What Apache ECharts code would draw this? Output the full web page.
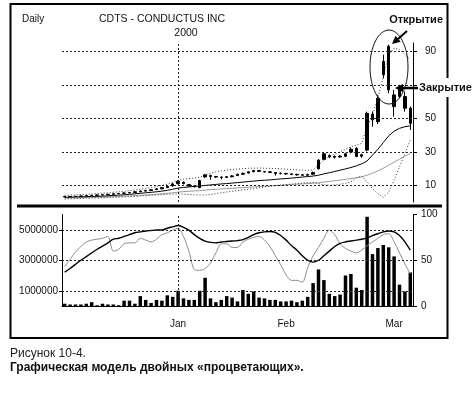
<!DOCTYPE html>
<html><head><meta charset="utf-8">
<script src="https://cdn.jsdelivr.net/npm/echarts@6/dist/echarts.min.js"></script>
<style>html,body{margin:0;padding:0;background:#fff}#c{width:476px;height:393px}</style>
</head><body><div id="c"></div><script>
// trading days
const categories = [
 '1999-12-02','1999-12-03','1999-12-06','1999-12-07','1999-12-08','1999-12-09','1999-12-10','1999-12-13','1999-12-14','1999-12-15',
 '1999-12-16','1999-12-17','1999-12-20','1999-12-21','1999-12-22','1999-12-23','1999-12-27','1999-12-28','1999-12-29','1999-12-30',
 '1999-12-31','2000-01-03','2000-01-04','2000-01-05','2000-01-06','2000-01-07','2000-01-10','2000-01-11','2000-01-12','2000-01-13',
 '2000-01-14','2000-01-18','2000-01-19','2000-01-20','2000-01-21','2000-01-24','2000-01-25','2000-01-26','2000-01-27','2000-01-28',
 '2000-01-31','2000-02-01','2000-02-02','2000-02-03','2000-02-04','2000-02-07','2000-02-08','2000-02-09','2000-02-10','2000-02-11',
 '2000-02-14','2000-02-15','2000-02-16','2000-02-17','2000-02-18','2000-02-22','2000-02-23','2000-02-24','2000-02-25','2000-02-28',
 '2000-02-29','2000-03-01','2000-03-02','2000-03-03','2000-03-06'];
const monthNames = {'01':'Jan','02':'Feb','03':'Mar'};

const openP  = [3.0,3.2,3.3,3.4,3.6,3.8,4.0,4.2,4.3,4.6, 4.9,5.2,5.4,5.7,6.1,6.5,6.9,7.4,7.9,8.6, 9.6,11.0,11.8,10.4,9.6,8.6,15.0,15.8,15.2,14.9, 14.7,15.1,15.8,16.6,17.3,18.1,18.8,18.2,18.0,17.6, 17.2,17.0,16.8,16.5,16.3,16.0,16.6,19.8,25.5,27.8, 27.2,26.9,27.3,29.8,32.0,27.4,31.0,52.5,48.0,76.0, 93.0,64.0,63.0,63.0,56.0];
const closeP = [3.3,3.3,3.4,3.6,3.8,4.0,4.2,4.3,4.6,4.9, 5.1,5.4,5.7,6.1,6.5,6.9,7.3,7.9,8.6,9.4, 10.8,12.3,11.0,9.6,9.1,12.8,16.2,15.3,14.9,14.7, 15.1,15.6,16.5,17.1,18.0,18.8,18.3,18.0,17.7,17.1, 17.0,16.8,16.5,16.2,16.0,16.4,17.6,25.0,28.8,27.0, 26.8,27.4,28.8,31.5,27.2,28.2,53.0,49.0,62.0,84.0, 67.0,57.0,68.0,56.0,47.0];
const lowP   = [2.9,3.0,3.1,3.2,3.4,3.6,3.8,4.0,4.1,4.4, 4.7,5.0,5.2,5.5,5.9,6.2,6.6,7.1,7.6,8.3, 9.3,10.6,10.5,9.2,8.7,8.2,14.5,13.2,14.4,13.5, 14.3,14.8,15.5,16.2,17.0,17.8,17.9,17.6,17.3,15.8, 16.5,16.3,16.0,15.8,15.6,15.7,16.3,19.5,25.0,26.2, 26.0,26.4,26.8,29.0,26.8,26.5,30.2,45.0,46.5,74.0, 65.0,51.0,62.0,54.0,43.0];
const highP  = [3.5,3.6,3.7,3.8,4.1,4.3,4.5,4.7,4.9,5.2, 5.4,5.8,6.0,6.4,6.8,7.3,7.7,8.3,9.0,9.9, 11.3,13.0,12.3,10.8,10.0,13.2,16.8,16.3,15.6,15.2, 15.5,16.0,17.0,17.6,18.4,19.2,19.1,18.6,18.4,17.9, 17.6,17.4,17.2,16.9,16.7,16.9,18.2,25.6,29.5,28.5, 27.8,28.2,29.4,32.6,32.8,28.8,54.0,54.2,64.0,88.0, 94.0,67.0,70.0,66.0,57.0];

const maMid   = [2.8,2.9,3.0,3.1,3.2,3.3,3.4,3.5,3.7,3.9, 4.1,4.3,4.6,4.9,5.2,5.5,5.8,6.1,6.5,7.0, 7.6,8.3,8.7,9.0,9.3,9.6,9.9,10.2,10.5,10.8, 11.0,11.3,11.6,11.9,12.2,12.5,12.8,13.0,13.2,13.5, 13.8,14.0,14.3,14.6,14.9,15.2,15.5,16.0,16.8,17.5, 18.2,19.0,19.8,20.6,21.6,22.8,24.5,28.0,31.5,35.5, 39.5,42.3,44.0,45.0,45.5];
const bandUp  = [4.0,4.1,4.2,4.4,4.6,4.8,5.0,5.2,5.5,5.8, 6.1,6.4,6.8,7.2,7.6,8.1,8.6,9.2,9.9,10.7, 11.7,12.9,13.6,14.0,14.3,14.8,16.2,17.2,18.0,18.6, 19.0,19.4,19.7,19.9,20.1,20.2,20.3,20.2,20.1,20.0, 19.8,19.6,19.4,19.2,19.0,18.9,19.2,22.0,25.0,27.0, 28.5,30.0,31.5,33.0,34.0,35.0,45.0,52.0,62.0,75.0, 88.0,92.0,91.0,88.0,85.0];
const bandLow = [1.8,1.9,2.0,2.1,2.2,2.3,2.4,2.5,2.6,2.7, 2.9,3.0,3.2,3.4,3.6,3.8,4.0,4.2,4.4,4.6, 4.7,4.8,4.7,4.5,4.3,4.2,4.1,4.5,5.0,5.5, 6.0,6.4,6.8,7.2,7.6,8.0,8.5,9.0,9.4,9.8, 10.1,10.4,10.7,11.0,11.3,11.5,11.7,11.0,10.3,10.0, 10.2,10.6,11.2,12.0,14.5,15.5,12.0,8.0,5.0,2.8, 6.0,13.0,21.0,29.0,37.0];
const maLong  = [2.4,2.5,2.5,2.6,2.7,2.8,2.9,3.0,3.1,3.2, 3.3,3.5,3.6,3.8,4.0,4.2,4.4,4.6,4.9,5.2, 5.5,5.9,6.2,6.4,6.6,6.8,7.1,7.4,7.6,7.8, 8.0,8.2,8.4,8.6,8.8,9.0,9.2,9.4,9.6,9.8, 10.0,10.2,10.4,10.6,10.8,11.0,11.2,11.5,11.9,12.3, 12.7,13.1,13.5,14.0,14.5,15.0,16.0,17.2,18.6,20.2, 22.0,23.8,25.6,27.4,29.0];

const volume = [150000,100000,100000,100000,150000,250000,50000,150000,100000,100000, 50000,350000,350000,150000,650000,400000,200000,400000,350000,700000, 600000,1000000,500000,400000,400000,1000000,1850000,500000,250000,400000, 650000,550000,300000,1050000,800000,950000,550000,500000,400000,400000, 300000,300000,350000,250000,350000,600000,1500000,2400000,1700000,800000, 650000,750000,2000000,2100000,1200000,1050000,5850000,3400000,3800000,4000000, 3850000,3250000,1400000,950000,2200000];

const oscDark = [37,41,45.5,50,54,58,62,65.5,69,73, 74,76,78,80,81,82,82.5,83,83,85, 86.5,88,86,83,78,74,71,69.5,69,70, 70.5,71,71.5,72.5,75,78,80,81,81.5,80.5, 77,72,66,61,55,50,48,50,55,60, 65,68.5,70,71,72,73,74.5,77,79,81, 82,81,77,70,61];
const oscGray = [43,51,59,65,70,72,73,74,76,60, 62,68,69,69,74,72,70,73,78,80, 83,85,76,60,40,39,41,47,58,68, 68,64,64,70,73,75,76,72,65,55, 45,34,28,28,26,42,55,64,74,83, 78,68,63,60,58,61,66,70,74,78, 79,70,58,46,35];

const priceTicks = [10,30,50,90];
const priceGrid = [10,30,50,70,90];
const volTicks = [1000000,3000000,5000000];
const oscTicks = [0,50,100];
const janIndex = categories.indexOf('2000-01-03');

const FONT = 'Liberation Sans, Arial, sans-serif';
const candleData = categories.map((c,i)=>[openP[i],closeP[i],lowP[i],highP[i]]);
const isMonthStart = (i)=> i>0 && categories[i].slice(5,7)!==categories[i-1].slice(5,7);
const dotted = {color:'#222', width:1, type:[2,2]};

const chart = echarts.init(document.getElementById('c'), null, {renderer:'canvas'});
chart.setOption({
  animation:false,
  backgroundColor:'#fff',
  textStyle:{fontFamily:FONT},
  grid:[
    {left:62, right:63, top:43, height:159, outerBoundsMode:'none'},
    {left:62, right:63, top:214.5, height:91.5, outerBoundsMode:'none'}
  ],
  xAxis:[
    {type:'category', gridIndex:0, data:categories, boundaryGap:true, show:false},
    {type:'category', gridIndex:1, position:'bottom', data:categories, boundaryGap:true,
      axisLine:{lineStyle:{color:'#000', width:1}},
      axisTick:{alignWithLabel:true, length:4, interval:0, lineStyle:{color:'#000'}},
      axisLabel:{show:false}},
    {type:'category', gridIndex:1, position:'bottom', offset:0, data:categories, boundaryGap:true,
      axisLine:{show:false},
      axisTick:{alignWithLabel:true, length:9, interval:(i)=>isMonthStart(i), lineStyle:{color:'#000'}},
      axisLabel:{interval:(i)=>isMonthStart(i), margin:13, fontSize:10, color:'#111', fontFamily:FONT,
        formatter:(v)=>monthNames[v.slice(5,7)]||''}}
  ],
  yAxis:[
    {type:'value', gridIndex:0, position:'right', min:0, max:95,
      splitLine:{show:false},
      axisLine:{show:true, lineStyle:{color:'#000'}},
      axisTick:{show:true, length:4, customValues:priceGrid, lineStyle:{color:'#000'}},
      axisLabel:{customValues:priceTicks, margin:12, fontSize:10, color:'#111', fontFamily:FONT}},
    {type:'value', gridIndex:1, position:'left', min:0, max:6000000,
      splitLine:{show:false},
      axisLine:{show:true, lineStyle:{color:'#000'}},
      axisTick:{show:true, length:3, customValues:volTicks, lineStyle:{color:'#000'}},
      axisLabel:{customValues:volTicks, margin:4, fontSize:10, color:'#111', fontFamily:FONT, formatter:(v)=>String(v)}},
    {type:'value', gridIndex:1, position:'right', min:0, max:100,
      splitLine:{show:false},
      axisLine:{show:true, lineStyle:{color:'#000'}},
      axisTick:{show:true, length:4, customValues:oscTicks, lineStyle:{color:'#000'}},
      axisLabel:{customValues:oscTicks, margin:8, fontSize:10, color:'#111', fontFamily:FONT}}
  ],
  series:[
    {type:'candlestick', xAxisIndex:0, yAxisIndex:0, data:candleData, barWidth:3, barMaxWidth:3,
      itemStyle:{color:'#000', color0:'#000', borderColor:'#000', borderColor0:'#000', borderWidth:1},
      markLine:{silent:true, symbol:'none', label:{show:false}, lineStyle:dotted,
        data: priceGrid.map(v=>({yAxis:v})).concat([{xAxis:categories[janIndex]}])}},
    {type:'line', xAxisIndex:0, yAxisIndex:0, data:maLong, symbol:'none', lineStyle:{color:'#9a9a9a', width:1}, z:1},
    {type:'line', xAxisIndex:0, yAxisIndex:0, data:bandLow, symbol:'none', lineStyle:{color:'#333', width:1, type:[1,2]}, z:1},
    {type:'line', xAxisIndex:0, yAxisIndex:0, data:bandUp, symbol:'none', lineStyle:{color:'#333', width:1, type:[1,2]}, z:1},
    {type:'line', xAxisIndex:0, yAxisIndex:0, data:maMid, symbol:'none', lineStyle:{color:'#000', width:1}, z:1},
    {type:'bar', xAxisIndex:1, yAxisIndex:1, data:volume, barWidth:3.5, itemStyle:{color:'#000'},
      markLine:{silent:true, symbol:'none', label:{show:false}, lineStyle:dotted,
        data: volTicks.map(v=>({yAxis:v})).concat([{xAxis:categories[janIndex]}])}},
    {type:'line', xAxisIndex:1, yAxisIndex:2, data:oscGray, symbol:'none', smooth:0.3, lineStyle:{color:'#8c8c8c', width:1}},
    {type:'line', xAxisIndex:1, yAxisIndex:2, data:oscDark, symbol:'none', smooth:0.3, lineStyle:{color:'#000', width:1.4}}
  ],
  graphic:[
    {type:'rect', z:50, shape:{x:10.5, y:4, width:437, height:334}, style:{fill:'none', stroke:'#000', lineWidth:2}},
    {type:'line', z:50, shape:{x1:17, y1:206, x2:442, y2:206}, style:{stroke:'#000', lineWidth:3}},
    {type:'text', z:50, style:{text:'Daily', x:22, y:19, font:'10px '+FONT, fill:'#111', align:'left', verticalAlign:'middle', textAlign:'left', textVerticalAlign:'middle'}},
    {type:'text', z:50, style:{text:'CDTS - CONDUCTUS INC', x:162, y:19, font:'10.5px '+FONT, fill:'#111', align:'center', verticalAlign:'middle', textAlign:'center', textVerticalAlign:'middle'}},
    {type:'text', z:50, style:{text:'2000', x:186, y:33, font:'10.5px '+FONT, fill:'#111', align:'center', verticalAlign:'middle', textAlign:'center', textVerticalAlign:'middle'}},
    {type:'text', z:50, style:{text:'Открытие', x:443, y:20, font:'bold 11px '+FONT, fill:'#111', align:'right', verticalAlign:'middle', textAlign:'right', textVerticalAlign:'middle'}},
    {type:'ellipse', z:50, shape:{cx:389, cy:67, rx:19, ry:37}, style:{fill:'none', stroke:'#111', lineWidth:1}},
    {type:'line', z:50, shape:{x1:407, y1:31, x2:398, y2:39}, style:{stroke:'#000', lineWidth:2}},
    {type:'polygon', z:50, shape:{points:[[392,44],[400.7,41.8],[395.5,35.7]]}, style:{fill:'#000'}},
    {type:'rect', z:51, shape:{x:418, y:78, width:58, height:19}, style:{fill:'#fff'}},
    {type:'line', z:52, shape:{x1:402, y1:88, x2:418, y2:88}, style:{stroke:'#000', lineWidth:2.5}},
    {type:'polygon', z:52, shape:{points:[[395,88],[403,84],[403,92]]}, style:{fill:'#000'}},
    {type:'text', z:52, style:{text:'Закрытие', x:419, y:88, font:'bold 11px '+FONT, fill:'#111', align:'left', verticalAlign:'middle', textAlign:'left', textVerticalAlign:'middle'}},
    {type:'text', z:50, style:{text:'Рисунок 10-4.', x:10, y:354, font:'12px '+FONT, fill:'#222', align:'left', verticalAlign:'middle', textAlign:'left', textVerticalAlign:'middle'}},
    {type:'text', z:50, style:{text:'Графическая модель двойных «процветающих».', x:10, y:368, font:'bold 12px '+FONT, fill:'#111', align:'left', verticalAlign:'middle', textAlign:'left', textVerticalAlign:'middle'}}
  ]
});
</script></body></html>
